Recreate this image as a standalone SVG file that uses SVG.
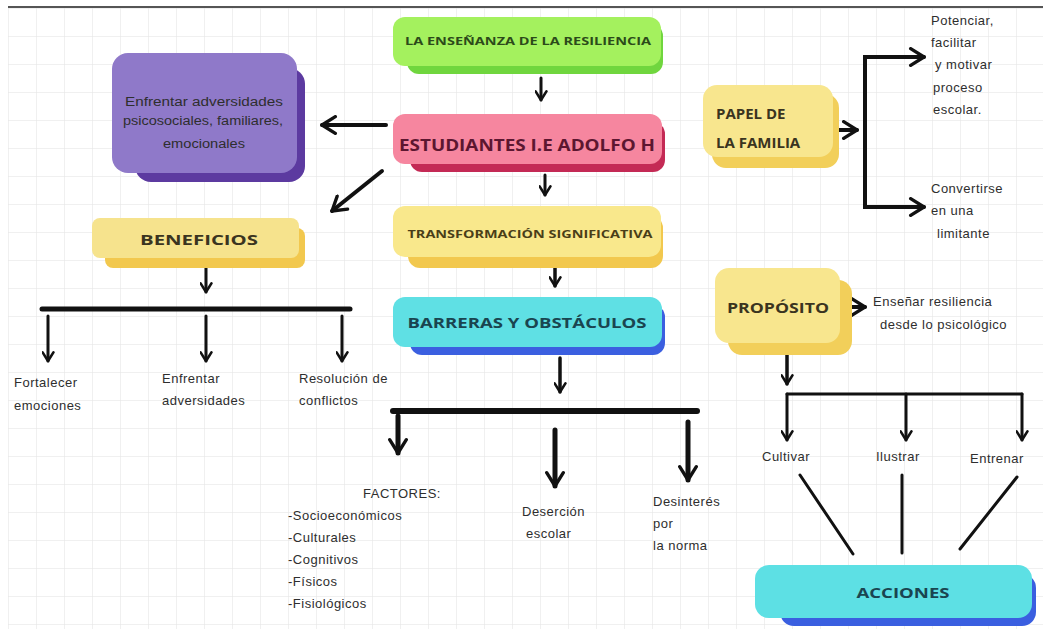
<svg xmlns="http://www.w3.org/2000/svg" width="1043" height="629" viewBox="0 0 1043 629">
<style>
.t{font-family:"Open Sans","DejaVu Sans",sans-serif;font-weight:700;text-anchor:middle}
.tl{font-family:"Open Sans","DejaVu Sans",sans-serif;font-weight:700;text-anchor:start}
.s{font-family:"Liberation Sans","DejaVu Sans",sans-serif;font-size:13px;letter-spacing:0.5px;fill:#2e2e2e}
.c{stroke:#111;fill:none;stroke-linecap:round}
</style>
<defs>
<pattern id="grid" x="8" y="8" width="28" height="28" patternUnits="userSpaceOnUse">
<path d="M28,0 L0,0 0,28" fill="none" stroke="#e2e2e2" stroke-width="1"/>
</pattern>
<marker id="ah" viewBox="0 0 12 12" refX="10" refY="6" markerWidth="13" markerHeight="13" markerUnits="userSpaceOnUse" orient="auto">
<path d="M2,1 L10,6 L2,11" fill="none" stroke="#111" stroke-width="2.4" stroke-linecap="round" stroke-linejoin="round"/>
</marker>
<marker id="ahL" viewBox="0 0 12 12" refX="10" refY="6" markerWidth="20" markerHeight="20" markerUnits="userSpaceOnUse" orient="auto">
<path d="M2,1 L10,6 L2,11" fill="none" stroke="#111" stroke-width="2" stroke-linecap="round" stroke-linejoin="round"/>
</marker>
</defs>
<rect width="1043" height="629" fill="#fff"/>
<rect x="8" y="8" width="1035" height="621" fill="url(#grid)"/>
<line x1="8" y1="7" x2="1043" y2="7" stroke="#555" stroke-width="2"/>

<g id="connectors">
<line class="c" x1="541" y1="78" x2="541" y2="100" stroke-width="3" marker-end="url(#ah)"/>
<line class="c" x1="545" y1="175" x2="545" y2="195" stroke-width="3" marker-end="url(#ah)"/>
<line class="c" x1="555" y1="260" x2="555" y2="286" stroke-width="3.5" marker-end="url(#ah)"/>
<line class="c" x1="560" y1="358" x2="560" y2="392" stroke-width="3.5" marker-end="url(#ah)"/>
<line class="c" x1="393" y1="411" x2="697" y2="411" stroke-width="6"/>
<line class="c" x1="398" y1="416" x2="398" y2="453" stroke-width="5" marker-end="url(#ahL)"/>
<line class="c" x1="555" y1="430" x2="555" y2="486" stroke-width="5" marker-end="url(#ahL)"/>
<line class="c" x1="688" y1="422" x2="688" y2="480" stroke-width="5" marker-end="url(#ahL)"/>
<line class="c" x1="386" y1="125" x2="322" y2="125" stroke-width="4" marker-end="url(#ahL)"/>
<line class="c" x1="382" y1="171" x2="332" y2="211" stroke-width="4" marker-end="url(#ahL)"/>
<line class="c" x1="206" y1="259" x2="206" y2="292" stroke-width="3" marker-end="url(#ah)"/>
<line class="c" x1="42" y1="309" x2="350" y2="309" stroke-width="5"/>
<line class="c" x1="48" y1="316" x2="48" y2="361" stroke-width="3" marker-end="url(#ah)"/>
<line class="c" x1="206" y1="316" x2="206" y2="361" stroke-width="3" marker-end="url(#ah)"/>
<line class="c" x1="342" y1="316" x2="342" y2="361" stroke-width="3" marker-end="url(#ah)"/>
<line class="c" x1="830" y1="130" x2="857" y2="130" stroke-width="4" marker-end="url(#ahL)"/>
<path class="c" d="M915,57 L865,57 L865,207 L915,207" stroke-width="4"/>
<line class="c" x1="900" y1="57" x2="924" y2="57" stroke-width="4" marker-end="url(#ahL)"/>
<line class="c" x1="900" y1="207" x2="924" y2="207" stroke-width="4" marker-end="url(#ahL)"/>
<line class="c" x1="842" y1="307" x2="865" y2="307" stroke-width="4" marker-end="url(#ahL)"/>
<line class="c" x1="787" y1="347" x2="787" y2="384" stroke-width="3.5" marker-end="url(#ah)"/>
<line class="c" x1="787" y1="394" x2="1022" y2="394" stroke-width="3"/>
<line class="c" x1="787" y1="394" x2="787" y2="440" stroke-width="3" marker-end="url(#ah)"/>
<line class="c" x1="906" y1="394" x2="906" y2="440" stroke-width="3" marker-end="url(#ah)"/>
<line class="c" x1="1022" y1="394" x2="1022" y2="440" stroke-width="3" marker-end="url(#ah)"/>
<line class="c" x1="800" y1="475" x2="853" y2="554" stroke-width="3" stroke="#333"/>
<line class="c" x1="902" y1="475" x2="902" y2="553" stroke-width="3" stroke="#333"/>
<line class="c" x1="1017" y1="477" x2="960" y2="549" stroke-width="3" stroke="#333"/>
</g>

<g id="n-ensenanza">
<rect x="407" y="24" width="256" height="50" rx="12" fill="#70d63e"/>
<rect x="393" y="17" width="268" height="49" rx="12" fill="#a4f15e"/>
<text class="t" x="528" y="45" font-size="11" fill="#2c4a1a" textLength="246" lengthAdjust="spacingAndGlyphs">LA ENSEÑANZA DE LA RESILIENCIA</text>
</g>

<g id="n-estudiantes">
<rect x="410" y="122" width="255" height="50" rx="12" fill="#c42a55"/>
<rect x="393" y="114" width="269" height="50" rx="12" fill="#f6869f"/>
<text class="t" x="527" y="151" font-size="16" fill="#5c1630" textLength="256" lengthAdjust="spacingAndGlyphs">ESTUDIANTES I.E ADOLFO H</text>
</g>

<g id="n-transformacion">
<rect x="408" y="216" width="255" height="52" rx="12" fill="#f2c84e"/>
<rect x="393" y="206" width="268" height="51" rx="12" fill="#f9e88c"/>
<text class="t" x="530" y="238" font-size="11" fill="#4a3e18" textLength="245" lengthAdjust="spacingAndGlyphs">TRANSFORMACIÓN SIGNIFICATIVA</text>
</g>

<g id="n-barreras">
<rect x="410" y="305" width="255" height="50" rx="12" fill="#3b5fe0"/>
<rect x="393" y="297" width="269" height="50" rx="12" fill="#5fe0e4"/>
<text class="t" x="527" y="328" font-size="15" fill="#1a4550" textLength="239" lengthAdjust="spacingAndGlyphs">BARRERAS Y OBSTÁCULOS</text>
</g>

<g id="n-enfrentar-adv">
<rect x="135" y="68" width="170" height="114" rx="16" fill="#5c3aa0"/>
<rect x="112" y="53" width="185" height="120" rx="16" fill="#8f79c9"/>
<text class="s" text-anchor="middle" fill="#2e1f56" style="font-size:12px;letter-spacing:0"><tspan x="204" y="106" textLength="158" lengthAdjust="spacingAndGlyphs">Enfrentar adversidades</tspan><tspan x="203" y="125" textLength="160" lengthAdjust="spacingAndGlyphs">psicosociales, familiares,</tspan><tspan x="204" y="148" textLength="82" lengthAdjust="spacingAndGlyphs">emocionales</tspan></text>
</g>

<g id="n-beneficios">
<rect x="105" y="228" width="200" height="40" rx="8" fill="#f2c84e"/>
<rect x="92" y="218" width="207" height="40" rx="8" fill="#f6e38d"/>
<text class="t" x="199" y="245" font-size="14" fill="#3a3420" textLength="118" lengthAdjust="spacingAndGlyphs">BENEFICIOS</text>
</g>

<g id="n-beneficios-items">
<text class="s"><tspan x="14" y="387">Fortalecer</tspan><tspan x="14" y="410">emociones</tspan></text>
<text class="s"><tspan x="162" y="383">Enfrentar</tspan><tspan x="162" y="405">adversidades</tspan></text>
<text class="s"><tspan x="299" y="383">Resolución de</tspan><tspan x="299" y="405">conflictos</tspan></text>
</g>

<g id="n-factores">
<text class="s"><tspan x="363" y="498">FACTORES:</tspan><tspan x="288" y="520">-Socioeconómicos</tspan><tspan x="288" y="542">-Culturales</tspan><tspan x="288" y="564">-Cognitivos</tspan><tspan x="288" y="586">-Físicos</tspan><tspan x="288" y="608">-Fisiológicos</tspan></text>
</g>
<g id="n-desercion">
<text class="s"><tspan x="522" y="516">Deserción</tspan><tspan x="526" y="538">escolar</tspan></text>
</g>
<g id="n-desinteres">
<text class="s"><tspan x="653" y="506">Desinterés</tspan><tspan x="653" y="528">por</tspan><tspan x="653" y="550">la norma</tspan></text>
</g>

<g id="n-papel">
<rect x="712" y="94" width="127" height="74" rx="14" fill="#f2cf5a"/>
<rect x="703" y="85" width="130" height="72" rx="14" fill="#f8e68e"/>
<text class="tl" font-size="15" fill="#3a3420"><tspan x="716" y="119">PAPEL DE</tspan><tspan x="716" y="148">LA FAMILIA</tspan></text>
</g>
<g id="n-potenciar">
<text class="s"><tspan x="931" y="25">Potenciar,</tspan><tspan x="931" y="47">facilitar</tspan><tspan x="935" y="69">y motivar</tspan><tspan x="933" y="92">proceso</tspan><tspan x="933" y="114">escolar.</tspan></text>
</g>
<g id="n-convertirse">
<text class="s"><tspan x="931" y="193">Convertirse</tspan><tspan x="931" y="215">en una</tspan><tspan x="937" y="238">limitante</tspan></text>
</g>

<g id="n-proposito">
<rect x="728" y="280" width="124" height="75" rx="14" fill="#f2cf5a"/>
<rect x="715" y="268" width="125" height="75" rx="14" fill="#f8e68e"/>
<text class="t" x="778" y="313" font-size="14" fill="#3a3420" textLength="102" lengthAdjust="spacingAndGlyphs">PROPÓSITO</text>
</g>
<g id="n-ensenar">
<text class="s"><tspan x="873" y="306">Enseñar resiliencia</tspan><tspan x="880" y="329">desde lo psicológico</tspan></text>
</g>

<g id="n-cultivar"><text class="s" x="762" y="461">Cultivar</text></g>
<g id="n-ilustrar"><text class="s" x="876" y="461">Ilustrar</text></g>
<g id="n-entrenar"><text class="s" x="970" y="463">Entrenar</text></g>

<g id="n-acciones">
<rect x="780" y="574" width="256" height="52" rx="14" fill="#3a5fe0"/>
<rect x="755" y="565" width="277" height="53" rx="14" fill="#5de0e4"/>
<text class="t" x="903" y="598" font-size="15" fill="#1a4550" textLength="93" lengthAdjust="spacingAndGlyphs">ACCIONES</text>
</g>
</svg>
